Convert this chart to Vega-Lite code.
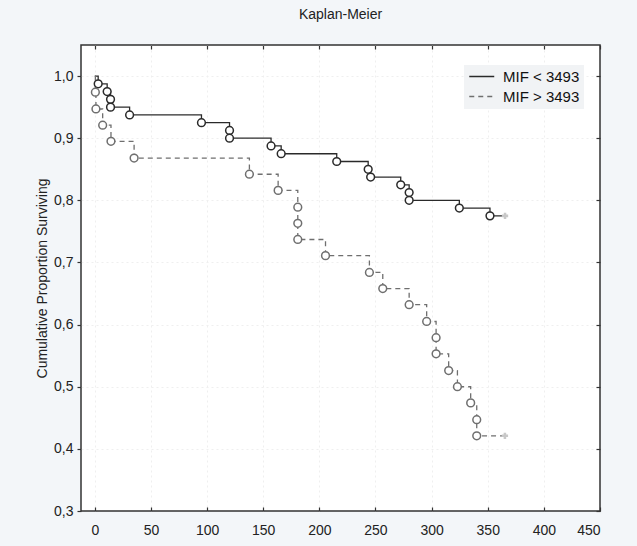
{
  "$schema": "https://vega.github.io/schema/vega-lite/v6.json",
  "autosize": "none",
  "width": 519,
  "height": 466,
  "padding": {"left": 81, "top": 45, "right": 37, "bottom": 35},
  "background": "#f3f6f9",
  "title": {"text": "Kaplan-Meier", "fontSize": 14, "fontWeight": "normal", "color": "#222222", "font": "Liberation Sans", "offset": 22, "anchor": "middle", "frame": "group"},
  "config": {
    "view": {"fill": "white", "stroke": "#333333", "strokeWidth": 1.5},
    "font": "Liberation Sans",
    "axis": {"labelFont": "Liberation Sans", "titleFont": "Liberation Sans", "labelFontSize": 14, "labelColor": "#222222", "titleColor": "#222222", "titleFontWeight": "normal", "titleFontSize": 14, "domain": false, "tickColor": "#333333", "tickWidth": 1.2, "gridDash": [2, 3], "gridWidth": 1}
  },
  "data": {"values": [
    {"group": "MIF < 3493", "type": "start", "time": 0, "surv": 1.0},
    {"group": "MIF < 3493", "type": "event", "time": 3, "surv": 0.9875},
    {"group": "MIF < 3493", "type": "event", "time": 11, "surv": 0.975},
    {"group": "MIF < 3493", "type": "event", "time": 14, "surv": 0.9625},
    {"group": "MIF < 3493", "type": "event", "time": 14, "surv": 0.95},
    {"group": "MIF < 3493", "type": "event", "time": 31, "surv": 0.9375},
    {"group": "MIF < 3493", "type": "event", "time": 95, "surv": 0.925},
    {"group": "MIF < 3493", "type": "event", "time": 120, "surv": 0.9125},
    {"group": "MIF < 3493", "type": "event", "time": 120, "surv": 0.9},
    {"group": "MIF < 3493", "type": "event", "time": 157, "surv": 0.8875},
    {"group": "MIF < 3493", "type": "event", "time": 166, "surv": 0.875},
    {"group": "MIF < 3493", "type": "event", "time": 215.5, "surv": 0.8625},
    {"group": "MIF < 3493", "type": "event", "time": 243.5, "surv": 0.85},
    {"group": "MIF < 3493", "type": "event", "time": 245.7, "surv": 0.8375},
    {"group": "MIF < 3493", "type": "event", "time": 272.5, "surv": 0.825},
    {"group": "MIF < 3493", "type": "event", "time": 280, "surv": 0.8125},
    {"group": "MIF < 3493", "type": "event", "time": 280, "surv": 0.8},
    {"group": "MIF < 3493", "type": "event", "time": 324.7, "surv": 0.7875},
    {"group": "MIF < 3493", "type": "event", "time": 352, "surv": 0.775},
    {"group": "MIF < 3493", "type": "censor", "time": 365.4, "surv": 0.775},
    {"group": "MIF > 3493", "type": "start", "time": 0, "surv": 1.0},
    {"group": "MIF > 3493", "type": "event", "time": 0.5, "surv": 0.974},
    {"group": "MIF > 3493", "type": "event", "time": 1, "surv": 0.947},
    {"group": "MIF > 3493", "type": "event", "time": 7, "surv": 0.921},
    {"group": "MIF > 3493", "type": "event", "time": 14.4, "surv": 0.895},
    {"group": "MIF > 3493", "type": "event", "time": 35, "surv": 0.868},
    {"group": "MIF > 3493", "type": "event", "time": 137.7, "surv": 0.842},
    {"group": "MIF > 3493", "type": "event", "time": 163.3, "surv": 0.816},
    {"group": "MIF > 3493", "type": "event", "time": 180.8, "surv": 0.789},
    {"group": "MIF > 3493", "type": "event", "time": 180.8, "surv": 0.763},
    {"group": "MIF > 3493", "type": "event", "time": 180.8, "surv": 0.737},
    {"group": "MIF > 3493", "type": "event", "time": 205.5, "surv": 0.711},
    {"group": "MIF > 3493", "type": "event", "time": 244.6, "surv": 0.684},
    {"group": "MIF > 3493", "type": "event", "time": 256.5, "surv": 0.658},
    {"group": "MIF > 3493", "type": "event", "time": 280, "surv": 0.632},
    {"group": "MIF > 3493", "type": "event", "time": 295.6, "surv": 0.605},
    {"group": "MIF > 3493", "type": "event", "time": 304, "surv": 0.579},
    {"group": "MIF > 3493", "type": "event", "time": 304, "surv": 0.553},
    {"group": "MIF > 3493", "type": "event", "time": 315.2, "surv": 0.526},
    {"group": "MIF > 3493", "type": "event", "time": 323, "surv": 0.5},
    {"group": "MIF > 3493", "type": "event", "time": 334.8, "surv": 0.474},
    {"group": "MIF > 3493", "type": "event", "time": 340.2, "surv": 0.447},
    {"group": "MIF > 3493", "type": "event", "time": 340.2, "surv": 0.421},
    {"group": "MIF > 3493", "type": "censor", "time": 365.3, "surv": 0.421}
  ]},
  "resolve": {"axis": {"x": "independent", "y": "independent"}},
  "layer": [
    {
      "mark": {"type": "line", "interpolate": "step-after", "strokeWidth": 1.3},
      "encoding": {
        "x": {"field": "time", "type": "quantitative", "scale": {"domain": [-12.3, 450], "nice": false, "zero": false},
              "axis": {"orient": "bottom", "title": null, "values": [0, 50, 100, 150, 200, 250, 300, 350, 400, 450], "tickSize": -4, "labelPadding": 16, "grid": true,
                       "gridColor": {"condition": {"test": "datum.value >= 450", "value": "transparent"}, "value": "#efefef"}}},
        "y": {"field": "surv", "type": "quantitative", "scale": {"domain": [0.3, 1.05], "nice": false, "zero": false},
              "axis": {"orient": "left", "title": "Cumulative Proportion Surviving", "values": [0.3, 0.4, 0.5, 0.6, 0.7, 0.8, 0.9, 1.0], "labelExpr": "replace(format(datum.value, '.1f'), '.', ',')", "tickSize": 4, "labelPadding": 4, "titlePadding": 4, "grid": true,
                       "gridColor": {"condition": {"test": "datum.value <= 0.3", "value": "transparent"}, "value": "#efefef"}}},
        "order": [{"field": "surv", "sort": "descending"}, {"field": "time", "sort": "ascending"}],
        "color": {"field": "group", "type": "nominal", "scale": {"domain": ["MIF < 3493", "MIF > 3493"], "range": ["#2a2a2a", "#6f6f6f"]},
                  "legend": {"title": null, "orient": "none", "legendX": 383, "legendY": 20, "fillColor": "#f1f3f5", "padding": 4, "symbolType": "M-1,0H3", "symbolSize": 156, "symbolStrokeWidth": 1.3, "labelFontSize": 15, "labelFont": "Liberation Sans", "labelColor": "#111111", "labelOffset": 20, "rowPadding": 4}},
        "strokeDash": {"field": "group", "type": "nominal", "scale": {"domain": ["MIF < 3493", "MIF > 3493"], "range": [[1, 0], [5, 4]]},
                  "legend": {"title": null, "orient": "none", "legendX": 383, "legendY": 20, "fillColor": "#f1f3f5", "padding": 4, "symbolType": "M-1,0H3", "symbolSize": 156, "symbolStrokeWidth": 1.3, "labelFontSize": 15, "labelFont": "Liberation Sans", "labelColor": "#111111", "labelOffset": 20, "rowPadding": 4}}
      }
    },
    {
      "transform": [{"filter": "datum.type === 'event'"}],
      "mark": {"type": "point", "shape": "circle", "filled": false, "fill": "white", "fillOpacity": 1, "size": 60, "strokeWidth": 1.5, "opacity": 1},
      "encoding": {
        "x": {"field": "time", "type": "quantitative", "axis": {"orient": "top", "title": null, "labels": false, "values": [0, 50, 100, 150, 200, 250, 300, 350, 400, 450], "tickSize": -4, "grid": false}},
        "y": {"field": "surv", "type": "quantitative", "axis": {"orient": "right", "title": null, "labels": false, "values": [0.3, 0.4, 0.5, 0.6, 0.7, 0.8, 0.9, 1.0], "tickSize": -4, "grid": false}},
        "stroke": {"field": "group", "type": "nominal", "scale": {"domain": ["MIF < 3493", "MIF > 3493"], "range": ["#2a2a2a", "#6f6f6f"]}, "legend": null}
      }
    },
    {
      "transform": [{"filter": "datum.type === 'censor'"}],
      "mark": {"type": "point", "shape": "cross", "filled": true, "color": "#c8c8c8", "size": 40, "opacity": 1},
      "encoding": {
        "x": {"field": "time", "type": "quantitative", "axis": null},
        "y": {"field": "surv", "type": "quantitative", "axis": null}
      }
    }
  ]
}
